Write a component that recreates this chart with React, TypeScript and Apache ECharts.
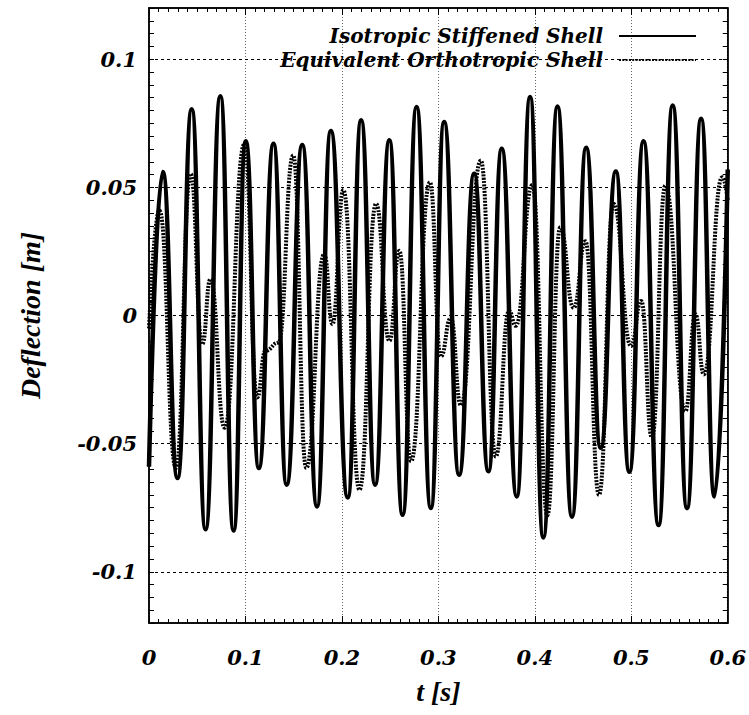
import React, { useEffect, useRef } from "react";
import * as echarts from "echarts";

// Isotropic stiffened shell: time [s] and deflection [m] at peaks / troughs
const isoT = [0, 0.0142, 0.0296, 0.0443, 0.0586, 0.074, 0.0877, 0.1003, 0.1139, 0.1291, 0.1427, 0.1589, 0.1742, 0.1885, 0.2061, 0.2199, 0.2344, 0.2492, 0.2629, 0.2774, 0.2922, 0.306, 0.3215, 0.3371, 0.3519, 0.3657, 0.3813, 0.3951, 0.4088, 0.4235, 0.4385, 0.4532, 0.4683, 0.484, 0.498, 0.5127, 0.5283, 0.5429, 0.5578, 0.5724, 0.5863, 0.6];
const isoY = [-0.059, 0.056, -0.0634, 0.0805, -0.0834, 0.0856, -0.0839, 0.068, -0.0595, 0.067, -0.066, 0.0665, -0.0745, 0.072, -0.071, 0.0762, -0.066, 0.0684, -0.0778, 0.0814, -0.0751, 0.0755, -0.0621, 0.0553, -0.0608, 0.0651, -0.0706, 0.0853, -0.0866, 0.0816, -0.0785, 0.0655, -0.0516, 0.0562, -0.061, 0.068, -0.0818, 0.082, -0.0752, 0.0768, -0.0706, 0.057];

// Equivalent orthotropic shell
const orthoT = [0, 0.0108, 0.0279, 0.0432, 0.0552, 0.0637, 0.0784, 0.099, 0.1122, 0.1206, 0.1342, 0.1495, 0.163, 0.1817, 0.1901, 0.2015, 0.2182, 0.2354, 0.2492, 0.2595, 0.2716, 0.2912, 0.3025, 0.3129, 0.3233, 0.344, 0.3595, 0.3733, 0.3802, 0.3975, 0.413, 0.4263, 0.4403, 0.4525, 0.4665, 0.4816, 0.4998, 0.5103, 0.5214, 0.5353, 0.5561, 0.5665, 0.5752, 0.5943, 0.6];
const orthoY = [-0.005, 0.041, -0.0595, 0.0553, -0.0112, 0.0142, -0.0438, 0.067, -0.032, -0.0138, -0.0106, 0.0625, -0.0595, 0.024, -0.0034, 0.049, -0.068, 0.0436, -0.0099, 0.0253, -0.0569, 0.052, -0.016, -0.001, -0.035, 0.0605, -0.055, 0.0018, -0.004, 0.051, -0.078, 0.0344, 0.003, 0.029, -0.07, 0.0436, -0.0119, 0.0057, -0.0477, 0.0507, -0.0373, 0.0005, -0.023, 0.054, 0.045];

const seriesNames = ["Isotropic Stiffened Shell", "Equivalent Orthotropic Shell"];
const yGridLines = [-0.1, -0.05, 0, 0.05, 0.1];

const tickFont = {
  fontFamily: "DejaVu Serif",
  fontWeight: "bold" as const,
  fontStyle: "italic" as const,
  fontSize: 21,
  color: "#000",
};
const titleFont = {
  fontFamily: "Liberation Serif",
  fontWeight: "bold" as const,
  fontStyle: "italic" as const,
  fontSize: 28,
  color: "#000",
};

const fmtY = (v: number) => {
  const hit = yGridLines.find((g) => Math.abs(g - v) < 1e-9);
  if (hit === undefined) return "";
  return hit === 0 ? "0" : String(hit);
};
const fmtX = (v: number) => String(Math.round(v * 10) / 10);

export default function App() {
  const ref = useRef<HTMLDivElement>(null);
  useEffect(() => {
    if (!ref.current) return;
    const chart = echarts.init(ref.current, undefined, { renderer: "svg" });
    const isoData = isoT.map((t, i) => [t, isoY[i]]);
    const orthoData = orthoT.map((t, i) => [t, orthoY[i]]);
    const axisLine = { show: true, onZero: false, lineStyle: { color: "#000", width: 1.5 } };
    chart.setOption({
      animation: false,
      backgroundColor: "#fff",
      grid: { left: 149, right: 8, top: 8, bottom: 92, show: true, borderColor: "#000", borderWidth: 1.5 },
      legend: {
        data: seriesNames,
        orient: "vertical",
        align: "right",
        right: 52,
        top: 26,
        padding: 0,
        itemWidth: 77,
        itemHeight: 14,
        itemGap: 4,
        selectedMode: false,
        itemStyle: { opacity: 0 },
        textStyle: { ...tickFont, fontSize: 20, padding: [0, 11, 0, 0] },
      },
      xAxis: [
        {
          type: "value",
          position: "bottom",
          min: 0,
          max: 0.6,
          interval: 0.1,
          axisLine,
          axisTick: { show: true, inside: true, length: 7, lineStyle: { color: "#000" } },
          minorTick: { show: true, splitNumber: 10, length: 4, lineStyle: { color: "#000" } },
          axisLabel: { ...tickFont, margin: 24, formatter: fmtX },
          splitLine: { show: true, lineStyle: { color: "#666", type: [1, 2], width: 1 } },
          name: "t [s]",
          nameLocation: "middle",
          nameGap: 54,
          nameTextStyle: titleFont,
        },
        {
          type: "value",
          position: "top",
          min: 0,
          max: 0.6,
          interval: 0.1,
          axisLine,
          axisTick: { show: true, inside: true, length: 7, lineStyle: { color: "#000" } },
          minorTick: { show: true, splitNumber: 10, length: 4, lineStyle: { color: "#000" } },
          axisLabel: { show: false },
          splitLine: { show: false },
        },
      ],
      yAxis: [
        {
          type: "value",
          position: "left",
          min: -0.12,
          max: 0.12,
          interval: 0.005,
          axisLine,
          axisTick: { show: true, inside: true, length: 5, lineStyle: { color: "#000" } },
          axisLabel: { ...tickFont, margin: 12, formatter: fmtY },
          splitLine: { show: false },
          name: "Deflection [m]",
          nameLocation: "middle",
          nameGap: 105,
          nameTextStyle: titleFont,
        },
        {
          type: "value",
          position: "right",
          min: -0.12,
          max: 0.12,
          interval: 0.005,
          axisLine,
          axisTick: { show: true, inside: true, length: 5, lineStyle: { color: "#000" } },
          axisLabel: { show: false },
          splitLine: { show: false },
        },
      ],
      series: [
        {
          name: seriesNames[0],
          type: "line",
          data: isoData,
          smooth: 0.5,
          smoothMonotone: "x",
          symbol: "none",
          lineStyle: { color: "#000", width: 4.5 },
          itemStyle: { color: "#000" },
          z: 4,
        },
        {
          name: seriesNames[1],
          type: "line",
          data: orthoData,
          smooth: 0.5,
          smoothMonotone: "x",
          symbol: "none",
          lineStyle: { color: "#000", width: 4, type: [2, 1.3] },
          itemStyle: { color: "#000" },
          z: 3,
        },
        {
          name: "grid",
          type: "line",
          data: [],
          silent: true,
          z: 1,
          markLine: {
            silent: true,
            symbol: "none",
            label: { show: false },
            lineStyle: { color: "#000", type: [3, 3], width: 1 },
            data: yGridLines.map((v) => ({ yAxis: v })),
          },
        },
      ],
    });
    return () => chart.dispose();
  }, []);
  return (
    <div
      ref={ref}
      style={{ position: "fixed", left: 0, top: 0, width: 749, height: 715, background: "#fff" }}
    />
  );
}
